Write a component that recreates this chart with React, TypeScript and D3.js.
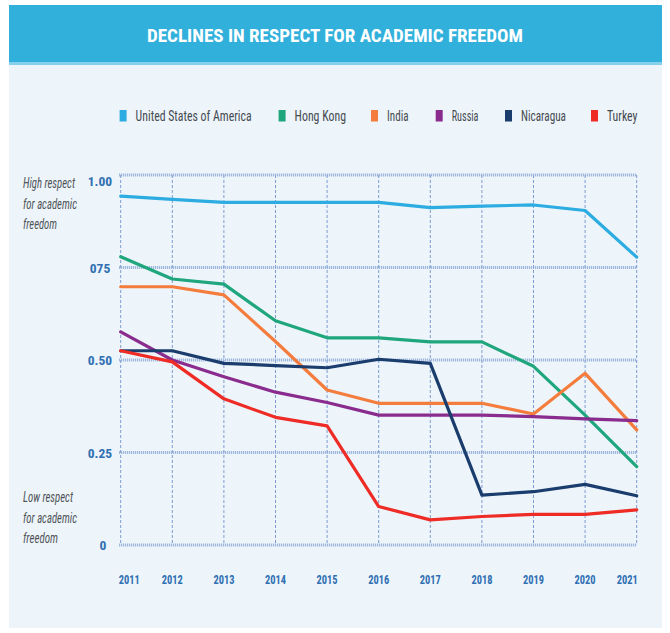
import React from 'react';
import * as d3 from 'd3';

const years = [2011, 2012, 2013, 2014, 2015, 2016, 2017, 2018, 2019, 2020, 2021];
const usa = [0.943, 0.934, 0.926, 0.926, 0.926, 0.926, 0.912, 0.916, 0.919, 0.904, 0.778];
const hongKong = [0.779, 0.719, 0.705, 0.606, 0.56, 0.56, 0.549, 0.549, 0.483, 0.351, 0.212];
const india = [0.698, 0.698, 0.676, 0.55, 0.419, 0.383, 0.383, 0.383, 0.354, 0.464, 0.311];
const russia = [0.576, 0.5, 0.455, 0.413, 0.385, 0.351, 0.351, 0.351, 0.347, 0.341, 0.336];
const nicaragua = [0.525, 0.525, 0.491, 0.485, 0.479, 0.502, 0.491, 0.135, 0.144, 0.164, 0.133];
const turkey = [0.525, 0.495, 0.395, 0.345, 0.322, 0.104, 0.068, 0.077, 0.083, 0.083, 0.095];

const seriesNames = ['United States of America', 'Hong Kong', 'India', 'Russia', 'Nicaragua', 'Turkey'];
const seriesValues = [usa, hongKong, india, russia, nicaragua, turkey];
const seriesColors = ['#2cace0', '#1fa67c', '#f47c3c', '#8a2b8e', '#1b3d6d', '#ee2b25'];

const yTicks = [0, 0.25, 0.5, 0.75, 1];
const yTickLabels = ['0', '0.25', '0.50', '075', '1.00'];

const title = 'DECLINES IN RESPECT FOR ACADEMIC FREEDOM';
const highNote = ['High respect', 'for academic', 'freedom'];
const lowNote = ['Low respect', 'for academic', 'freedom'];

// layout (not data)
const legendX = [119.6, 278.6, 371, 435.7, 505, 591];
const legendW = [116, 51.4, 21.5, 26.8, 45, 30.5];
const highW = [52, 54, 34];
const lowW = [50, 54, 35];

const FONT = "'Roboto Condensed', 'Liberation Sans Narrow', 'DejaVu Sans Condensed', Roboto, sans-serif";
const TICK = '#2f6fb2';

export default function App() {
  const x = d3.scaleLinear().domain([2011, 2021]).range([120.7, 636.7]);
  const y = d3.scaleLinear().domain([0, 1]).range([545, 175]);
  const line = d3
    .line<number>()
    .x((_, i) => x(years[i]))
    .y((d) => y(d))
    .curve(d3.curveLinear);

  return (
    <div style={{ position: 'absolute', left: 0, top: 0 }}>
      <svg width={670} height={633} style={{ display: 'block', fontFamily: FONT }}>
        <rect x={0} y={0} width={670} height={633} fill="#ffffff" />
        <rect x={9} y={5} width={653} height={623} fill="#edf5fb" />
        <rect x={9} y={5} width={653} height={57} fill="#32b0dc" />
        <rect x={9} y={62} width={653} height={3} fill="#86d0ec" />
        <text
          x={335}
          y={42}
          textAnchor="middle"
          fill="#ffffff"
          fontSize={19}
          fontWeight={700}
          textLength={376}
          lengthAdjust="spacingAndGlyphs"
        >
          {title}
        </text>

        {/* legend */}
        {seriesNames.map((n, i) => (
          <g key={n}>
            <rect x={legendX[i]} y={110} width={7} height={11.5} fill={seriesColors[i]} />
            <text
              x={legendX[i] + 16}
              y={121}
              fontSize={14.5}
              fill="#454a50"
              textLength={legendW[i]}
              lengthAdjust="spacingAndGlyphs"
            >
              {n}
            </text>
          </g>
        ))}

        {/* vertical grid */}
        {years.map((yr) => (
          <line
            key={'v' + yr}
            x1={x(yr)}
            x2={x(yr)}
            y1={y(1)}
            y2={y(0)}
            stroke="#7d9bd0"
            strokeWidth={1}
            strokeDasharray="3,2"
          />
        ))}
        {/* horizontal grid */}
        {yTicks.map((t) => (
          <line
            key={'h' + t}
            x1={x(2011) - 1.5}
            x2={x(2021)}
            y1={y(t)}
            y2={y(t)}
            stroke="#8ea9d8"
            strokeWidth={3}
            strokeDasharray="1,1"
          />
        ))}

        {/* y tick labels */}
        {yTicks.map((t, i) => (
          <text
            key={'yl' + t}
            x={t === 0 ? 103 : 100}
            y={y(t) + (t === 1 ? 10.5 : 5)}
            textAnchor="middle"
            fontSize={13.5}
            fontWeight={700}
            fill={TICK}
          >
            {yTickLabels[i]}
          </text>
        ))}

        {/* x tick labels */}
        {years.map((yr, i) => (
          <text
            key={'xl' + yr}
            x={i === 0 ? x(yr) - 2 : i === years.length - 1 ? x(yr) + 1 : x(yr)}
            y={584}
            textAnchor={i === 0 ? 'start' : i === years.length - 1 ? 'end' : 'middle'}
            fontSize={13.5}
            fontWeight={700}
            fill={TICK}
            textLength={21}
            lengthAdjust="spacingAndGlyphs"
          >
            {String(yr)}
          </text>
        ))}

        {/* side notes */}
        {highNote.map((s, i) => (
          <text
            key={'hn' + i}
            x={23}
            y={188 + i * 20.5}
            fontSize={14}
            fontStyle="italic"
            fill="#505458"
            textLength={highW[i]}
            lengthAdjust="spacingAndGlyphs"
          >
            {s}
          </text>
        ))}
        {lowNote.map((s, i) => (
          <text
            key={'ln' + i}
            x={23}
            y={502 + i * 20.5}
            fontSize={14}
            fontStyle="italic"
            fill="#505458"
            textLength={lowW[i]}
            lengthAdjust="spacingAndGlyphs"
          >
            {s}
          </text>
        ))}

        {/* series lines */}
        {seriesValues.map((vals, i) => (
          <path
            key={'s' + i}
            d={line(vals) || ''}
            fill="none"
            stroke={seriesColors[i]}
            strokeWidth={3.2}
            strokeLinejoin="round"
            strokeLinecap="round"
          />
        ))}
      </svg>
    </div>
  );
}
